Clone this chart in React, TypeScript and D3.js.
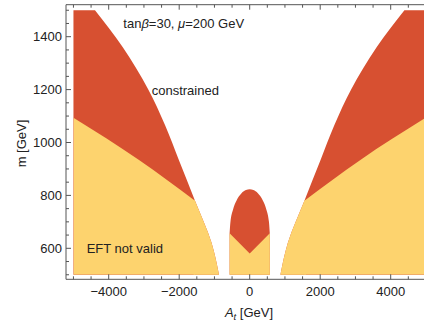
import React from "react";
import * as d3 from "d3";

// Axis ticks
const xMajorTicks = [-4000, -2000, 0, 2000, 4000];
const xTickLabels = ["\u22124000", "\u22122000", "0", "2000", "4000"];
const yMajorTicks = [600, 800, 1000, 1200, 1400];
const yTickLabels = ["600", "800", "1000", "1200", "1400"];

// Outer boundary of the allowed region (right half, mirrored on the left): A_t [GeV] vs m [GeV]
const outerA = [871, 1080, 1552, 2010, 2400, 2885, 3600, 4389];
const outerM = [500, 620, 780, 934, 1065, 1202, 1360, 1500];
// EFT validity boundary (right half)
const innerA = [1552, 3140, 5000];
const innerM = [780, 934, 1094];
// Central island: dome top (right half) and EFT split line
const domeA = [0, 105, 232, 376, 476, 546, 570];
const domeM = [823, 820, 808, 780, 745, 700, 657];
const vA = [0, 570];
const vM = [580, 657];

const aRange = [-5000, 5000];
const mRange = [500, 1500];

const RED = "#D75031";
const YELLOW = "#FDD36E";
const AXIS = "#555";
const TEXT = "#222";
const FONT = "'Liberation Sans', Arial, sans-serif";

export default function App() {
  const W = 424, H = 327;
  const x = d3.scaleLinear().domain(aRange).range([73.45, 425.95]);
  const y = d3.scaleLinear().domain(mRange).range([274.75, 10.25]);
  const frameLeft = 66, frameTop = 4.7, frameBottom = 279.3;

  type P = { a: number; m: number };
  const outerPts = (s: number): P[] => outerM.map((m, i) => ({ a: s * outerA[i], m }));
  const innerPts = (s: number): P[] => {
    const p = innerM.map((m, i) => ({ a: s * innerA[i], m }));
    return s < 0 ? p.reverse() : p;
  };

  const outerArea = (s: number) =>
    d3
      .area<P>()
      .curve(d3.curveMonotoneY)
      .y((d) => y(d.m))
      .x0(s < 0 ? x(aRange[0]) : x(aRange[1]))
      .x1((d) => x(d.a))(outerPts(s)) as string;

  const innerArea = (s: number) =>
    d3
      .area<P>()
      .curve(d3.curveMonotoneX)
      .x((d) => x(d.a))
      .y0(y(mRange[0]))
      .y1((d) => y(d.m))(innerPts(s)) as string;

  // region below the kink, between the outer boundary and the EFT line's start
  const kinkRect = (s: number) => {
    const a0 = s * (innerA[0] + 40);
    const a1 = s * (outerA[0] - 40);
    const xa = Math.min(x(a0), x(a1));
    const xb = Math.max(x(a0), x(a1));
    return { x: xa, y: y(innerM[0]) - 0.5, w: xb - xa, h: y(mRange[0]) - y(innerM[0]) + 1 };
  };

  const domePts: P[] = [
    ...domeA.map((a, i) => ({ a: -a, m: domeM[i] })).reverse(),
    ...domeA.slice(1).map((a, i) => ({ a, m: domeM[i + 1] })),
  ];
  const domePath = d3
    .area<P>()
    .curve(d3.curveMonotoneX)
    .x((d) => x(d.a))
    .y0(y(mRange[0]))
    .y1((d) => y(d.m))(domePts) as string;

  const vPts: P[] = [
    { a: -vA[1], m: mRange[0] },
    { a: -vA[1], m: vM[1] },
    { a: vA[0], m: vM[0] },
    { a: vA[1], m: vM[1] },
    { a: vA[1], m: mRange[0] },
  ];
  const vPath = d3.line<P>().x((d) => x(d.a)).y((d) => y(d.m))(vPts) + "Z";

  const xTicks = d3.range(-5000, 5001, 500);
  const yTicks = d3.range(500, 1501, 50);

  return (
    <svg
      width={W}
      height={H}
      style={{ position: "fixed", left: 0, top: 0, background: "#fff" }}
      fontFamily={FONT}
    >
      <defs>
        <clipPath id="clipL">
          <path d={outerArea(-1)} />
        </clipPath>
        <clipPath id="clipR">
          <path d={outerArea(1)} />
        </clipPath>
      </defs>

      {/* left region */}
      <path d={outerArea(-1)} fill={RED} />
      <g clipPath="url(#clipL)">
        <path d={innerArea(-1)} fill={YELLOW} />
        {(() => {
          const r = kinkRect(-1);
          return <rect x={r.x} y={r.y} width={r.w} height={r.h} fill={YELLOW} />;
        })()}
      </g>

      {/* right region */}
      <path d={outerArea(1)} fill={RED} />
      <g clipPath="url(#clipR)">
        <path d={innerArea(1)} fill={YELLOW} />
        {(() => {
          const r = kinkRect(1);
          return <rect x={r.x} y={r.y} width={r.w} height={r.h} fill={YELLOW} />;
        })()}
      </g>

      {/* central island */}
      <path d={domePath} fill={RED} />
      <path d={vPath} fill={YELLOW} />

      {/* frame */}
      <g stroke={AXIS} strokeWidth={1} fill="none">
        <line x1={frameLeft} x2={W + 20} y1={frameBottom} y2={frameBottom} />
        <line x1={frameLeft} x2={W + 20} y1={frameTop} y2={frameTop} />
        <line x1={frameLeft} x2={frameLeft} y1={frameTop} y2={frameBottom} />
        {xTicks.map((t) => {
          const len = xMajorTicks.includes(t) ? 5 : 3;
          return (
            <g key={"xt" + t}>
              <line x1={x(t)} x2={x(t)} y1={frameBottom} y2={frameBottom - len} />
              <line x1={x(t)} x2={x(t)} y1={frameTop} y2={frameTop + len} />
            </g>
          );
        })}
        {yTicks.map((t) => {
          const len = yMajorTicks.includes(t) ? 5 : 3;
          return <line key={"yt" + t} x1={frameLeft} x2={frameLeft + len} y1={y(t)} y2={y(t)} />;
        })}
      </g>

      {/* tick labels */}
      <g fontSize={13} fill={TEXT}>
        {xMajorTicks.map((t, i) => (
          <text key={"xl" + t} x={x(t)} y={295.5} textAnchor="middle">
            {xTickLabels[i]}
          </text>
        ))}
        {yMajorTicks.map((t, i) => (
          <text key={"yl" + t} x={62} y={y(t) + 4.6} textAnchor="end">
            {yTickLabels[i]}
          </text>
        ))}
      </g>

      {/* axis titles */}
      <text x={249} y={316.5} textAnchor="middle" fontSize={13} fill={TEXT}>
        <tspan fontStyle="italic">A</tspan>
        <tspan fontStyle="italic" fontSize={9.5} dy={3}>t</tspan>
        <tspan dy={-3}> [GeV]</tspan>
      </text>
      <text
        transform="translate(26,143.5) rotate(-90)"
        textAnchor="middle"
        fontSize={13}
        fill={TEXT}
      >
        m [GeV]
      </text>

      {/* annotations */}
      <text x={123.3} y={27.5} fontSize={13} fill={TEXT}>
        tan<tspan fontStyle="italic">β</tspan>=30, <tspan fontStyle="italic">μ</tspan>=200 GeV
      </text>
      <text x={151.7} y={94.5} fontSize={13} fill={TEXT}>
        constrained
      </text>
      <text x={86.7} y={253.3} fontSize={13} fill={TEXT}>
        EFT not valid
      </text>
    </svg>
  );
}
